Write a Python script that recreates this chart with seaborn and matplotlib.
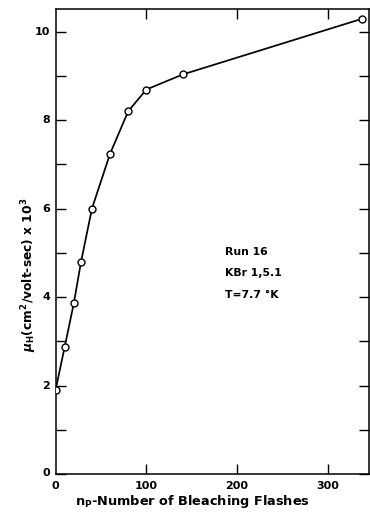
import matplotlib
matplotlib.use("Agg")
import matplotlib.pyplot as plt
from matplotlib.ticker import MultipleLocator, FixedLocator
import seaborn as sns
import pandas as pd

# Hall mobility vs. number of bleaching flashes (Run 16, KBr, T = 7.7 K)
flashes = [0, 10, 20, 28, 40, 60, 80, 100, 140, 338]
mobility = [1.91, 2.88, 3.86, 4.80, 6.00, 7.24, 8.20, 8.69, 9.03, 10.29]

x_ticks = [0, 100, 200, 300]
x_tick_labels = ["0", "100", "200", "300"]
y_ticks = [0, 2, 4, 6, 8, 10]
y_tick_labels = ["0", "2", "4", "6", "8", "10"]

df = pd.DataFrame({"flashes": flashes, "mobility": mobility})

sns.set_style("ticks")
plt.rcParams["font.family"] = ["DejaVu Sans"]
plt.rcParams["text.color"] = "black"

fig = plt.figure(figsize=(3.70, 5.21), dpi=100)
ax = fig.add_axes([0.1505, 0.0902, 0.8455, 0.8925])

sns.lineplot(data=df, x="flashes", y="mobility", ax=ax, color="black",
             linewidth=1.25, marker="o", markersize=5.0,
             markerfacecolor="white", markeredgecolor="black",
             markeredgewidth=1.0, zorder=3)

ax.set_xlim(0, 345)
ax.set_ylim(0, 10.51)

# bottom/left: labelled ticks; top/right: bare ticks
ax.xaxis.set_major_locator(FixedLocator([100, 200, 300]))
ax.yaxis.set_major_locator(MultipleLocator(1))
ax.tick_params(axis="both", direction="in", length=7, width=1.0,
               top=True, right=True, labelbottom=False, labelleft=False,
               color="black")
for s in ax.spines.values():
    s.set_linewidth(1.1)
    s.set_color("black")

tick_font = dict(fontsize=8.0, fontweight="bold", color="black")
for xv, lab in zip(x_ticks, x_tick_labels):
    ax.text(xv, -0.26, lab, ha="center", va="center", **tick_font)
for yv, lab in zip(y_ticks, y_tick_labels):
    dy = 0.7 if yv == 0 else 0
    ax.annotate(lab, xy=(0, yv), xycoords="data", xytext=(-4.0, dy),
                textcoords="offset points", ha="right", va="center",
                **tick_font)

ax.set_xlabel("")
ax.set_ylabel("")
ax.text(0.437, -0.059, r"n$_\mathregular{P}$-Number of Bleaching Flashes",
        transform=ax.transAxes, ha="center", va="center",
        fontsize=9.3, fontweight="bold", color="black")
ax.text(-0.085, 0.429,
        r"$\boldsymbol{\mu}_\mathregular{H}$(cm$^\mathregular{2}$/volt-sec) x 10$^\mathregular{3}$",
        transform=ax.transAxes, ha="center", va="center", rotation=90,
        fontsize=8.8, fontweight="bold", color="black")

ann = dict(fontsize=7.8, fontweight="bold", ha="left", va="center",
           color="black")
ax.text(187, 5.02, "Run 16", **ann)
ax.text(187, 4.54, "KBr 1,5.1", **ann)
ax.text(187, 4.05, "T=7.7 °K", **ann)

fig.savefig("out.png", dpi=100, facecolor="white")
